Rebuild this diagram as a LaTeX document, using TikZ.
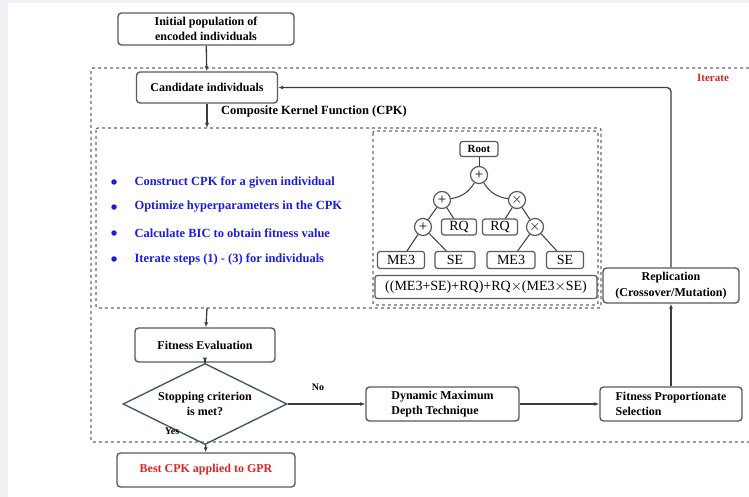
\documentclass[tikz,border=0pt]{standalone}
\usepackage{fontspec}
\setmainfont{Liberation Serif}
\usepackage{tikz}
\usetikzlibrary{shapes.geometric,arrows.meta}

\definecolor{bggray}{HTML}{EFF1F4}
\definecolor{boxgray}{HTML}{5A5A5A}
\definecolor{linegray}{HTML}{3C3C3C}
\definecolor{dashgray}{HTML}{6A6A6A}
\definecolor{slate}{HTML}{3E5C6B}
\definecolor{cpkblue}{HTML}{1C1CE0}
\definecolor{cpkred}{HTML}{E02424}

\tikzset{
	flowbox/.style={draw=boxgray, rounded corners=3.5pt, line width=1.4pt, font=\fontsize{12}{15.5}\selectfont\bfseries, align=center, inner sep=2pt},
	leafbox/.style={draw=boxgray, rounded corners=2.5pt, line width=1.2pt, font=\fontsize{14}{16}\selectfont, inner sep=1pt},
	opnode/.style={circle, draw=boxgray, line width=1.2pt, minimum size=17pt, inner sep=0pt, font=\fontsize{15}{15}\selectfont},
	link/.style={draw=linegray, line width=1.3pt},
	dashbox/.style={draw=dashgray, dashed, line width=1.3pt, rounded corners=2pt},
	bul/.style={circle, fill=cpkblue, inner sep=0pt, minimum size=5.5pt},
	bultext/.style={anchor=west, text=cpkblue, font=\fontsize{12.5}{14}\selectfont\bfseries},
	tag/.style={font=\fontsize{10}{12}\selectfont\bfseries},
	>={Latex[length=5pt,width=4pt]}
}

\begin{document}
\begin{tikzpicture}[x=1pt,y=-1pt]
	% page and background
	\useasboundingbox (0,0) rectangle (749,497);
	\fill [bggray] (0,0) rectangle (749,497);
	\fill [white] (8,3) rectangle (749,497);

	% dashed frames
	\draw [dashbox] (749,68) -- (91,68) -- (91,442) -- (749,442);
	\draw [dashbox] (96,128) rectangle (601,308);
	\draw [dashbox] (373,131) rectangle (598,305);
	\node [text=cpkred, font=\fontsize{11}{12}\selectfont\bfseries] (iter) at (713,78) {Iterate};

	% main flow
	\node [flowbox, minimum width=176pt, minimum height=32pt] (init) at (206,29) {Initial population of\\encoded individuals};
	\node [flowbox, minimum width=141pt, minimum height=31pt] (cand) at (207,87.5) {Candidate individuals};
	\node [font=\fontsize{12.5}{14}\selectfont\bfseries] (cpk) at (314,111) {Composite Kernel Function (CPK)};
	\coordinate (cpktop) at (207,128);
	\coordinate (cpkbot) at (207,308);

	\node [bul] (b1) at (114,182) {};
	\node [bul] (b2) at (114,207) {};
	\node [bul] (b3) at (114,233) {};
	\node [bul] (b4) at (114,259) {};
	\node [bultext] (t1) at (131,182) {Construct CPK for a given individual};
	\node [bultext] (t2) at (131,207) {Optimize hyperparameters in the CPK};
	\node [bultext] (t3) at (131,233) {Calculate BIC to obtain fitness value};
	\node [bultext] (t4) at (131,259) {Iterate steps (1) - (3) for individuals};

	% kernel tree
	\node [leafbox, font=\fontsize{11}{12}\selectfont\bfseries, minimum width=38pt, minimum height=15pt] (root) at (479,149) {Root};
	\node [opnode] (o1) at (479,175) {+};
	\node [opnode] (o2) at (442,200) {+};
	\node [opnode] (o3) at (517,200) {$\times$};
	\node [opnode] (o4) at (423,227) {+};
	\node [leafbox, minimum width=35pt, minimum height=16pt] (rq1) at (459,227) {RQ};
	\node [leafbox, minimum width=35pt, minimum height=16pt] (rq2) at (500,227) {RQ};
	\node [opnode] (o5) at (535,227) {$\times$};
	\node [leafbox, minimum width=47pt, minimum height=17pt] (me1) at (401,260) {ME3};
	\node [leafbox, minimum width=40pt, minimum height=17pt] (se1) at (455,260) {SE};
	\node [leafbox, minimum width=48pt, minimum height=17pt] (me2) at (511,260) {ME3};
	\node [leafbox, minimum width=37pt, minimum height=17pt] (se2) at (565,260) {SE};
	\node [leafbox, minimum width=222pt, minimum height=23pt] (expr) at (486,287) {((ME3+SE)+RQ)+RQ$\times$(ME3$\times$SE)};
	\draw [link, line width=1pt] (root) -- (o1);
	\draw [link, line width=1pt] (o1) to [bend left=25] (o2);
	\draw [link, line width=1pt] (o1) to [bend right=25] (o3);
	\draw [link, line width=1pt] (o2) -- (o4);
	\draw [link, line width=1pt] (o2) -- (rq1);
	\draw [link, line width=1pt] (o3) -- (rq2);
	\draw [link, line width=1pt] (o3) -- (o5);
	\draw [link, line width=1pt] (o4) -- (me1);
	\draw [link, line width=1pt] (o4) -- (se1);
	\draw [link, line width=1pt] (o5) -- (me2);
	\draw [link, line width=1pt] (o5) -- (se2);

	% evaluation and loop
	\node [flowbox, minimum width=140pt, minimum height=34pt] (fit) at (205,345) {Fitness Evaluation};
	\node [diamond, draw=slate, line width=1.4pt, minimum width=164pt, minimum height=46pt, inner xsep=-14pt, inner ysep=-4pt,
		font=\fontsize{12}{15}\selectfont\bfseries, align=center] (stop) at (205,404) {Stopping criterion\\is met?};
	\node [flowbox, minimum width=178pt, minimum height=34pt, text=cpkred] (best) at (206,470) {Best CPK applied to GPR};
	\node [flowbox, minimum width=153pt, minimum height=34pt, align=left] (dmd) at (442.5,404) {Dynamic Maximum\\Depth Technique};
	\node [flowbox, minimum width=142pt, minimum height=34pt, align=left] (fps) at (671,404) {Fitness Proportionate\\Selection};
	\node [flowbox, minimum width=136pt, minimum height=35pt] (rep) at (671,285.5) {Replication\\(Crossover/Mutation)};
	\node [tag] (no) at (318,387) {No};
	\node [tag] (yes) at (172,431) {Yes};

	\draw [link, ->] (init) -- (cand);
	\draw [link, ->] (cand) -- (cpktop);
	\draw [link, ->] (cpkbot) -- (fit);
	\draw [link, ->] (fit) -- (stop);
	\draw [link, ->] (stop) -- (best);
	\draw [link, ->] (stop) -- (dmd);
	\draw [link, ->] (dmd) -- (fps);
	\draw [link, ->] (fps) -- (rep);
	\draw [link, ->, rounded corners=4pt] (rep) |- (cand);
\end{tikzpicture}
\end{document}
